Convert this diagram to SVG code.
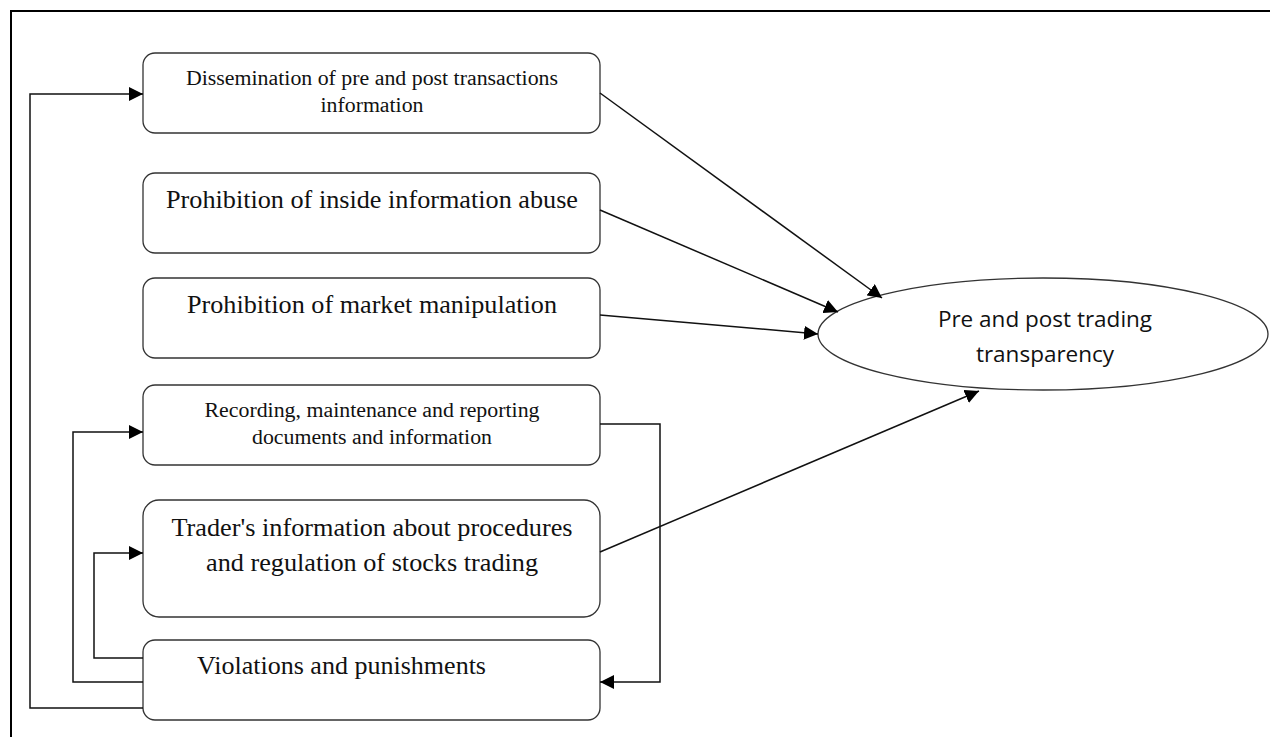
<svg xmlns="http://www.w3.org/2000/svg" width="1270" height="737" viewBox="0 0 1270 737">
<defs>
<marker id="ah" viewBox="0 0 10 10" refX="10" refY="5" markerWidth="14" markerHeight="14" markerUnits="userSpaceOnUse" orient="auto">
<path d="M0,0 L10,5 L0,10 z" fill="#000"/>
</marker>
</defs>
<style>
.box{fill:#fff;stroke:#333;stroke-width:1.3}
.t{font-family:"Liberation Serif",serif;fill:#111;text-anchor:middle}
.s{font-size:20px}
.l{font-size:25px}
.c{fill:none;stroke:#111;stroke-width:1.5}
.e{font-family:"Open Sans","Noto Sans",sans-serif;font-size:22.5px;fill:#111;text-anchor:middle}
</style>
<rect width="1270" height="737" fill="#fff"/>
<path d="M11,737 L11,11 L1270,11" fill="none" stroke="#000" stroke-width="2"/>
<g id="n1"><rect class="box" x="143" y="53" width="457" height="80" rx="12"/>
<text class="t s" x="372" y="85" textLength="372" lengthAdjust="spacingAndGlyphs">Dissemination of pre and post transactions</text>
<text class="t s" x="372" y="112" textLength="103" lengthAdjust="spacingAndGlyphs">information</text></g>
<g id="n2"><rect class="box" x="143" y="173" width="457" height="80" rx="12"/>
<text class="t l" x="372" y="208" textLength="412" lengthAdjust="spacingAndGlyphs">Prohibition of inside information abuse</text></g>
<g id="n3"><rect class="box" x="143" y="278" width="457" height="80" rx="12"/>
<text class="t l" x="372" y="313" textLength="370" lengthAdjust="spacingAndGlyphs">Prohibition of market manipulation</text></g>
<g id="n4"><rect class="box" x="143" y="385" width="457" height="80" rx="12"/>
<text class="t s" x="372" y="417" textLength="335" lengthAdjust="spacingAndGlyphs">Recording, maintenance and reporting</text>
<text class="t s" x="372" y="444" textLength="240" lengthAdjust="spacingAndGlyphs">documents and information</text></g>
<g id="n5"><rect class="box" x="143" y="500" width="457" height="117" rx="16"/>
<text class="t l" x="372" y="536" textLength="401" lengthAdjust="spacingAndGlyphs">Trader's information about procedures</text>
<text class="t l" x="372" y="571" textLength="332" lengthAdjust="spacingAndGlyphs">and regulation of stocks trading</text></g>
<g id="n6"><rect class="box" x="143" y="640" width="457" height="80" rx="12"/>
<text class="t l" x="197" y="674" style="text-anchor:start" textLength="289" lengthAdjust="spacingAndGlyphs">Violations and punishments</text></g>
<g id="n7"><ellipse cx="1043" cy="334" rx="225" ry="56" fill="#fff" stroke="#333" stroke-width="1.3"/>
<text class="e" x="1045" y="327">Pre and post trading</text>
<text class="e" x="1045" y="362">transparency</text></g>
<g id="connectors">
<path class="c" d="M600,93 L882,298" marker-end="url(#ah)"/>
<path class="c" d="M600,210 L838,312" marker-end="url(#ah)"/>
<path class="c" d="M600,315 L818,334" marker-end="url(#ah)"/>
<path class="c" d="M600,552 L979,391" marker-end="url(#ah)"/>
<path class="c" d="M143,708 L30,708 L30,94 L143,94" marker-end="url(#ah)"/>
<path class="c" d="M143,682 L73,682 L73,432 L143,432" marker-end="url(#ah)"/>
<path class="c" d="M143,658 L94,658 L94,553 L143,553" marker-end="url(#ah)"/>
<path class="c" d="M600,424 L660,424 L660,682 L600,682" marker-end="url(#ah)"/>
</g>
</svg>
